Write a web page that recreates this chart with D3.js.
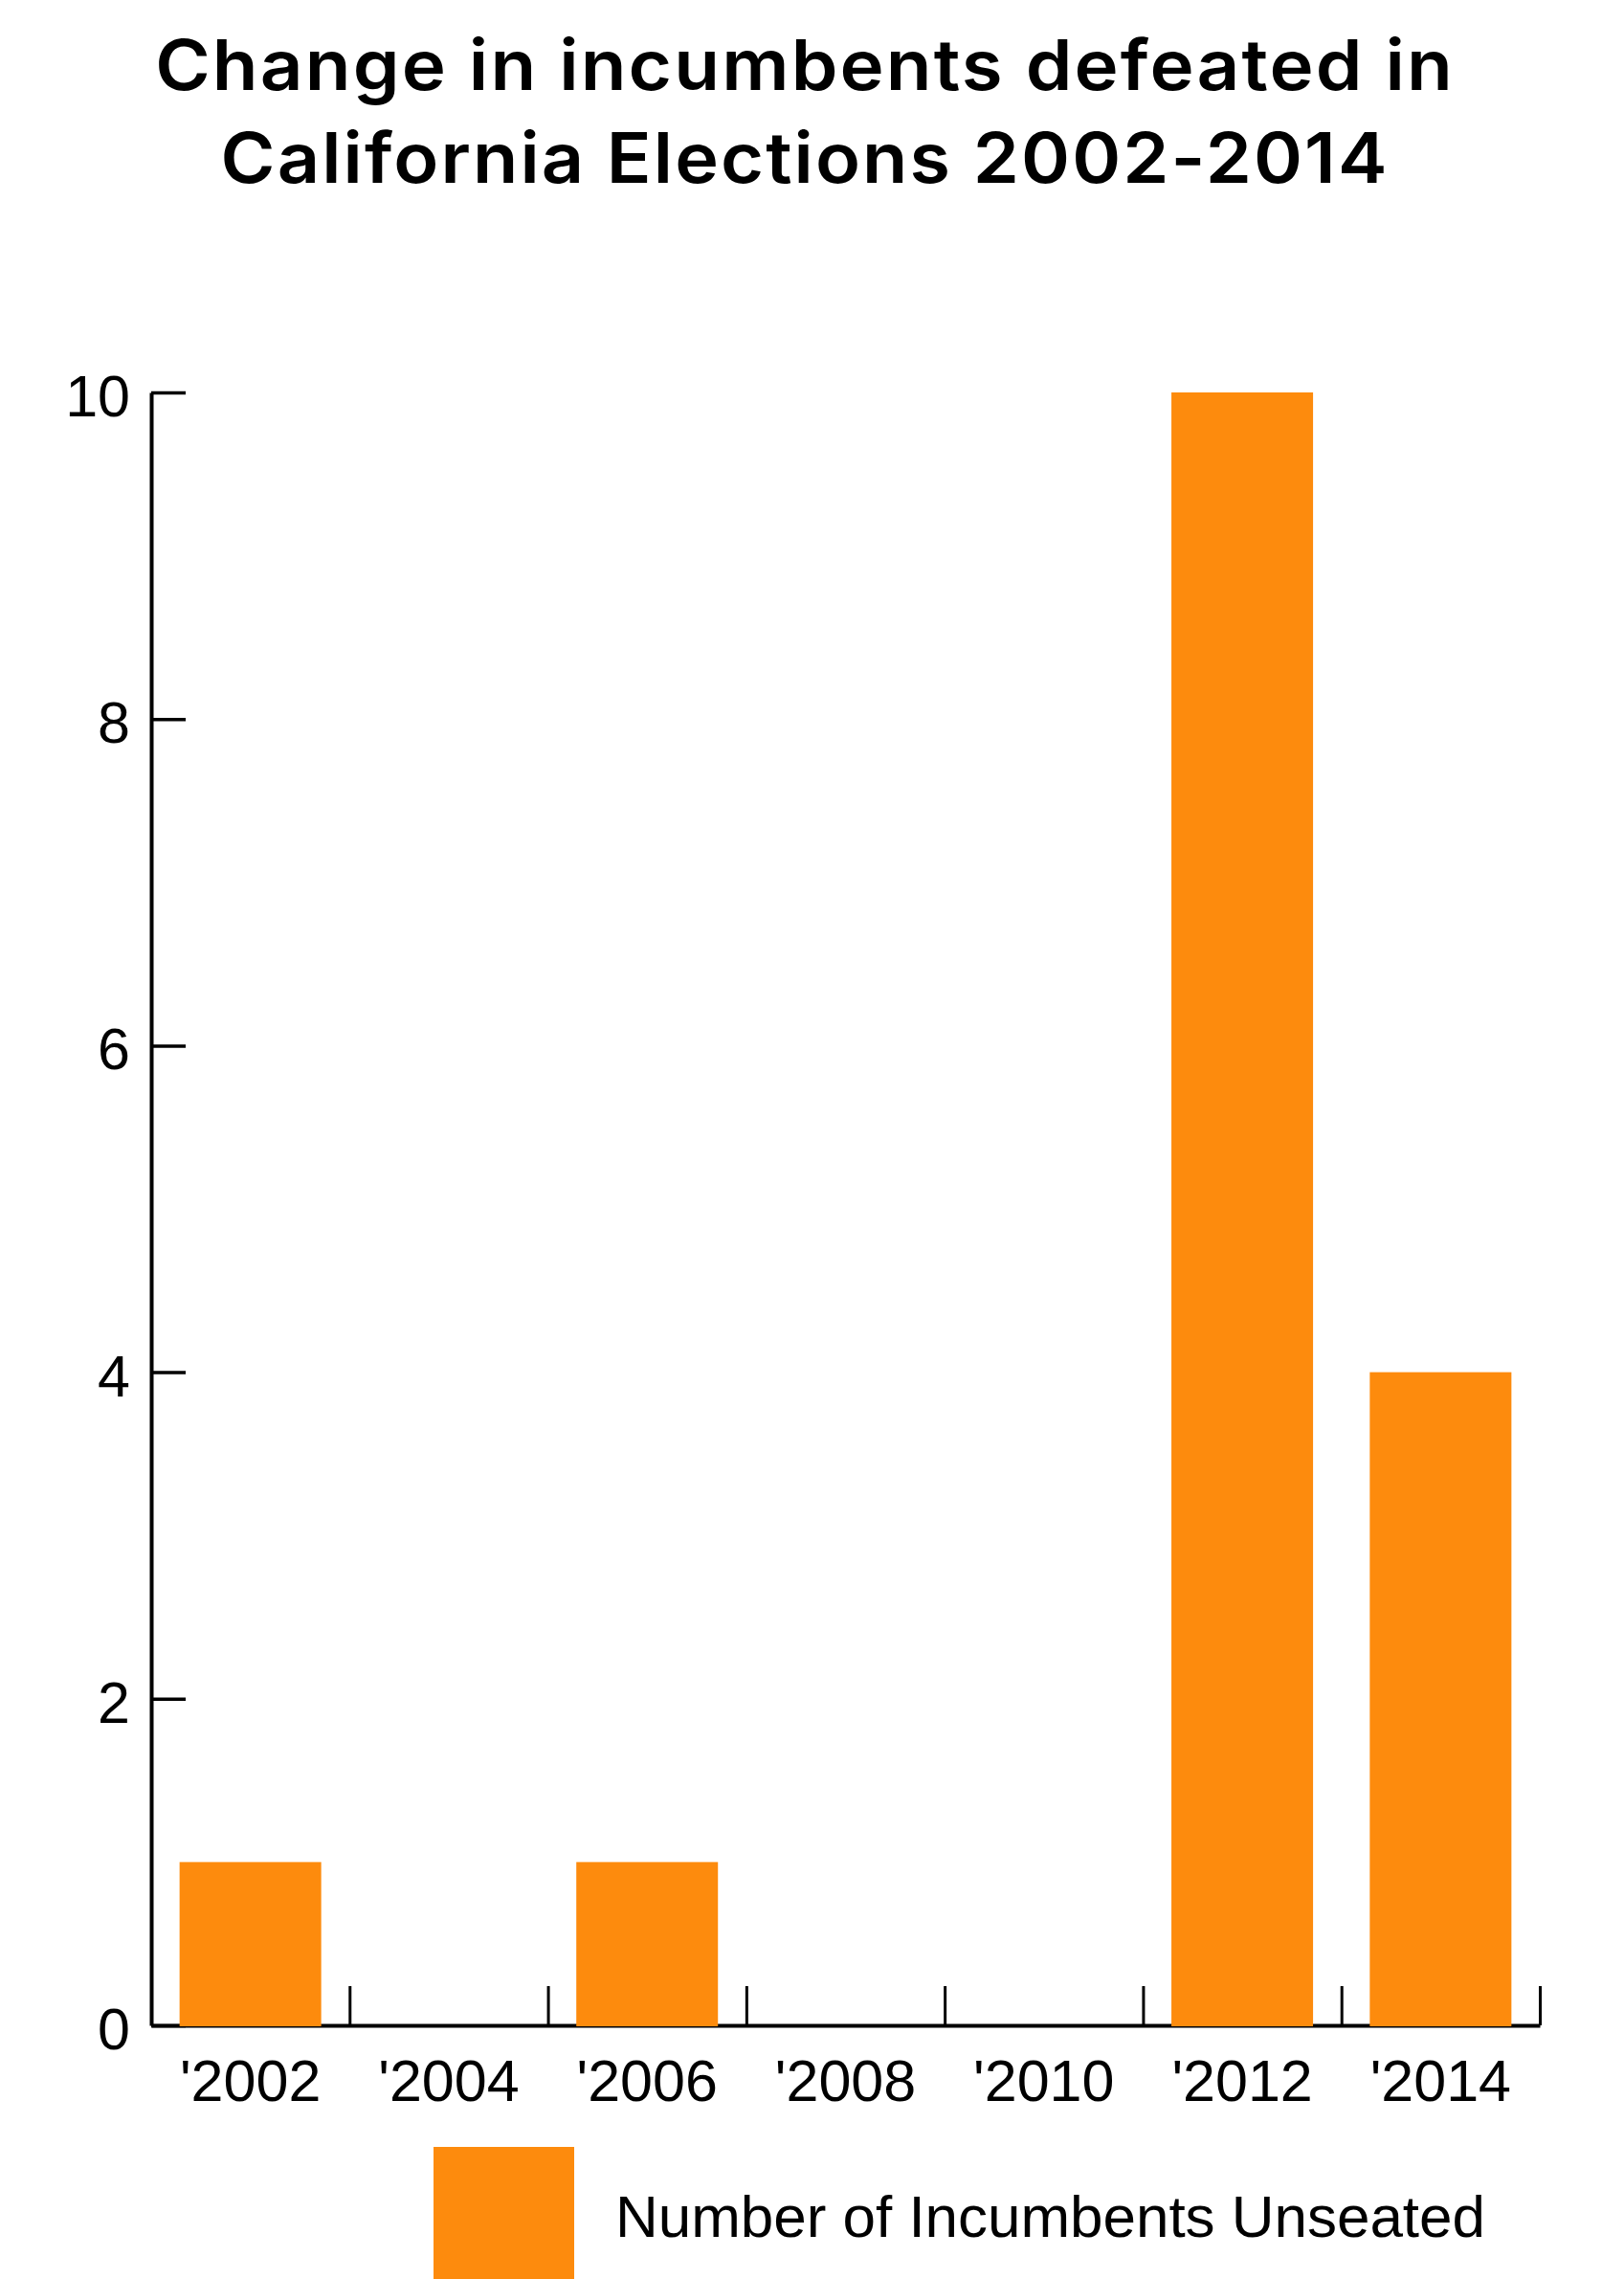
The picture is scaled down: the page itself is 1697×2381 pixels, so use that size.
<!DOCTYPE html>
<html>
<head>
<meta charset="utf-8">
<script src="https://cdn.jsdelivr.net/npm/d3@7"></script>
<style>
  html, body { margin: 0; padding: 0; background: #fff; }
  svg { display: block; }
</style>
</head>
<body>
<svg id="chart" width="1697" height="2381"></svg>
<script>
const titleLines = ["Change in incumbents defeated in", "California Elections 2002-2014"];
const years = ["'2002", "'2004", "'2006", "'2008", "'2010", "'2012", "'2014"];
const unseated = [1, 0, 1, 0, 0, 10, 4];
const yTicks = [0, 2, 4, 6, 8, 10];
const seriesName = "Number of Incumbents Unseated";

(function () {
const W = 1697, H = 2381;
const plotL = 158, plotR = 1609, plotT = 410, plotB = 2116;
const orange = "#fd8b0d";

const svg = d3.select("#chart");
svg.append("rect").attr("width", W).attr("height", H).attr("fill", "#fff");

const x = d3.scaleBand().domain(years).range([plotL, plotR])
  .paddingInner(0.286).paddingOuter(0.143);
const xEdges = d3.scaleLinear().domain([0, years.length]).range([plotL, plotR]);
const y = d3.scaleLinear().domain([0, 10]).range([plotB, plotT]);

// Title
const titleG = svg.append("g");
const titleTargets = [1356, 1219];
const titleBase = [94, 191];
titleLines.forEach((t, i) => {
  const txt = titleG.append("text")
    .attr("x", 0).attr("y", 0)
    .attr("text-anchor", "middle")
    .attr("font-family", "Inter, 'Open Sans', sans-serif")
    .attr("font-weight", 600)
    .attr("font-size", 73)
    .attr("fill", "#000")
    .text(t);
  const w0 = txt.node().getComputedTextLength();
  const ls = 2;
  txt.attr("letter-spacing", ls);
  const w1 = w0 + ls * (t.length - 1);
  const s = titleTargets[i] / w1;
  txt.attr("transform", `translate(${840 + ls * s / 2},${titleBase[i]}) scale(${s},1)`);
});

// Y axis
const yAxis = d3.axisLeft(y).tickValues(yTicks).tickFormat(d3.format("d"))
  .tickSizeInner(-36).tickSizeOuter(0).tickPadding(22);
const gy = svg.append("g").attr("transform", `translate(${plotL},0)`).call(yAxis);
gy.select(".domain").attr("stroke", "#000").attr("stroke-width", 4);
gy.selectAll(".tick line").attr("stroke", "#000").attr("stroke-width", 3.5);
gy.selectAll(".tick text")
  .attr("font-family", "'Liberation Sans', Arial, sans-serif")
  .attr("font-size", 61).attr("fill", "#000").attr("dy", "0.4em");

// X axis edge ticks (pointing up)
const edgeAxis = d3.axisBottom(xEdges).tickValues(d3.range(1, years.length + 1))
  .tickSizeInner(-41).tickSizeOuter(0).tickFormat("");
const ge = svg.append("g").attr("transform", `translate(0,${plotB})`).call(edgeAxis);
ge.select(".domain").attr("stroke", "#000").attr("stroke-width", 4);
ge.selectAll(".tick line").attr("stroke", "#000").attr("stroke-width", 3);

// X labels
const xAxis = d3.axisBottom(x).tickSize(0).tickPadding(36);
const gx = svg.append("g").attr("transform", `translate(0,${plotB})`).call(xAxis);
gx.select(".domain").remove();
gx.selectAll(".tick text")
  .attr("font-family", "'Liberation Sans', Arial, sans-serif")
  .attr("font-size", 61).attr("fill", "#000");

// Bars
svg.append("g").selectAll("rect")
  .data(years.map((d, i) => ({ year: d, value: unseated[i] })).filter(d => d.value > 0))
  .join("rect")
  .attr("x", d => x(d.year))
  .attr("width", x.bandwidth())
  .attr("y", d => y(d.value))
  .attr("height", d => y(0) - y(d.value) + 1)
  .attr("fill", orange);

// Legend
const leg = svg.append("g");
leg.append("rect").attr("x", 453).attr("y", 2243).attr("width", 147).attr("height", 147).attr("fill", orange);
const lt = leg.append("text")
  .attr("x", 643).attr("y", 2337)
  .attr("font-family", "'Liberation Sans', Arial, sans-serif")
  .attr("font-size", 62).attr("fill", "#000")
  .text(seriesName);
const lw = lt.node().getComputedTextLength();
lt.attr("letter-spacing", (909 - lw) / (seriesName.length - 1));
})();
</script>
</body>
</html>
